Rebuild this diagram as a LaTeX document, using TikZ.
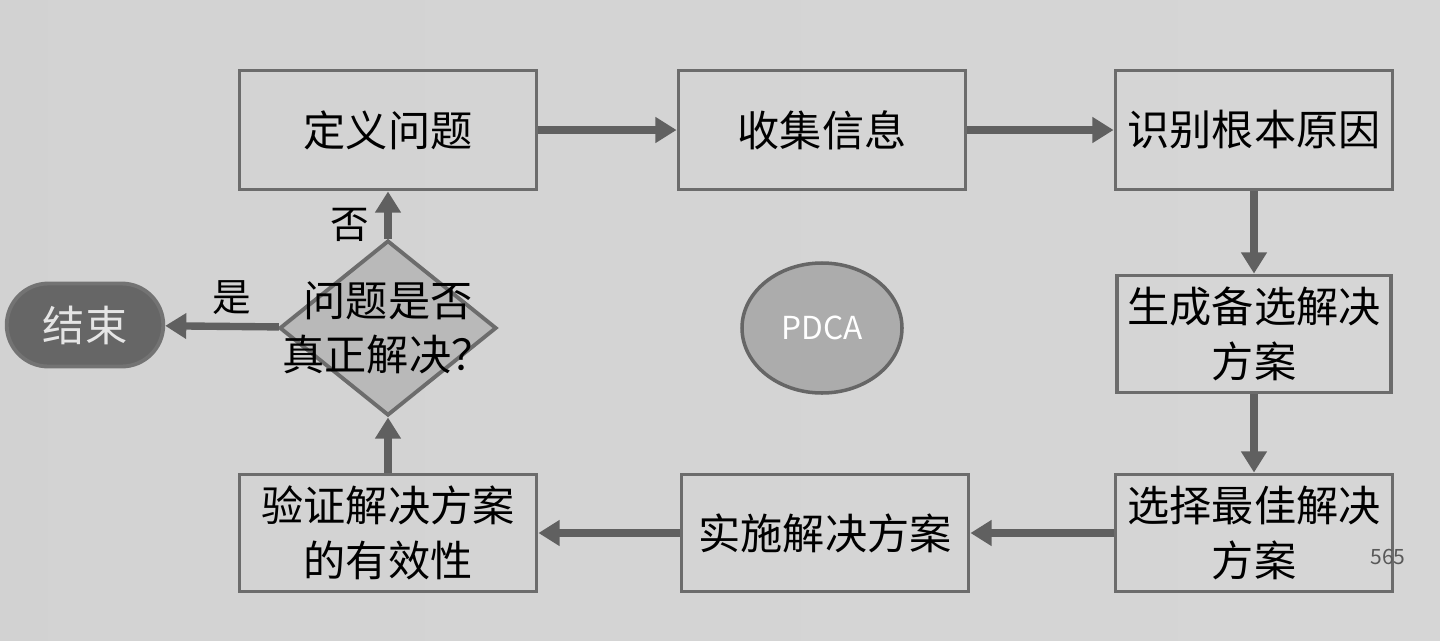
\documentclass[tikz,border=0pt]{standalone}
\usepackage{fontspec}
\setmainfont{Noto Sans CJK SC}
\usepackage{xcolor}
\usepackage{tikz}
\usetikzlibrary{shapes,arrows.meta,positioning}

\begin{document}
\begin{tikzpicture}[
    box/.style={draw=gray!85!black, line width=1.1pt, minimum height=1.19cm, align=center, inner sep=2pt, font=\fontsize{12}{15.5}\selectfont},
    flow/.style={-{Triangle[length=6pt,width=7pt]}, line width=2.1pt, draw=gray!75!black},
    lbl/.style={font=\fontsize{11}{13}\selectfont}
  ]
    % Paper background
    \useasboundingbox (0,0) rectangle (14.4,6.4);
    \shade[left color=gray!35, middle color=gray!4, right color=gray!32] (0,0) rectangle (14.4,6.4);

    % Top row
    \node[box, minimum width=2.97cm] (define) at (3.88,5.10) {定义问题};
    \node[box, minimum width=2.87cm] (collect) at (8.22,5.10) {收集信息};
    \node[box, minimum width=2.77cm] (cause) at (12.54,5.10) {识别根本原因};
    % Right column
    \node[box, minimum width=2.74cm, minimum height=1.17cm] (generate) at (12.54,3.06) {生成备选解决\\方案};
    \node[box, minimum width=2.77cm, minimum height=1.17cm] (choose) at (12.54,1.07) {选择最佳解决\\方案};
    % Bottom row
    \node[box, minimum width=2.87cm, minimum height=1.17cm] (apply) at (8.25,1.07) {实施解决方案};
    \node[box, minimum width=2.97cm, minimum height=1.17cm] (verify) at (3.88,1.07) {验证解决方案\\的有效性};

    % Decision
    \node[diamond, draw=gray!85!black, line width=1.1pt, fill=gray!55, minimum width=2.17cm, minimum height=1.75cm, inner sep=0pt] (check) at (3.88,3.12) {};
    \node[align=center, font=\fontsize{12}{15.5}\selectfont] (checktxt) at (check.center) {问题是否\\真正解决？};

    % End and PDCA
    \node[rounded rectangle, draw=gray!90!black, line width=1.1pt, fill=gray!80!black, text=gray!20, minimum width=1.8cm, minimum height=0.83cm, font=\fontsize{12}{15.5}\selectfont] (finish) at (0.85,3.15) {结束};
    \node[ellipse, draw=gray!80!black, line width=1pt, fill=gray!65, text=white, minimum width=1.6cm, minimum height=1.3cm, font=\fontsize{9}{11}\selectfont] (pdca) at (8.22,3.12) {PDCA};

    % Arrows
    \draw[flow] (define) -- (collect);
    \draw[flow] (collect) -- (cause);
    \draw[flow] (cause) -- (generate);
    \draw[flow] (generate) -- (choose);
    \draw[flow] (choose) -- (apply);
    \draw[flow] (apply) -- (verify);
    \draw[flow] (verify) -- (check);
    \draw[flow] (check) -- (define);
    \draw[flow] (check) -- (finish);

    % Branch labels
    \node[lbl] (no) at (3.50,4.15) {否};
    \node[lbl] (yes) at (2.32,3.42) {是};

    % Page number
    \node[font=\fontsize{6}{7}\selectfont, text=gray!70!black] (page) at (13.88,0.83) {565};
\end{tikzpicture}
\end{document}
